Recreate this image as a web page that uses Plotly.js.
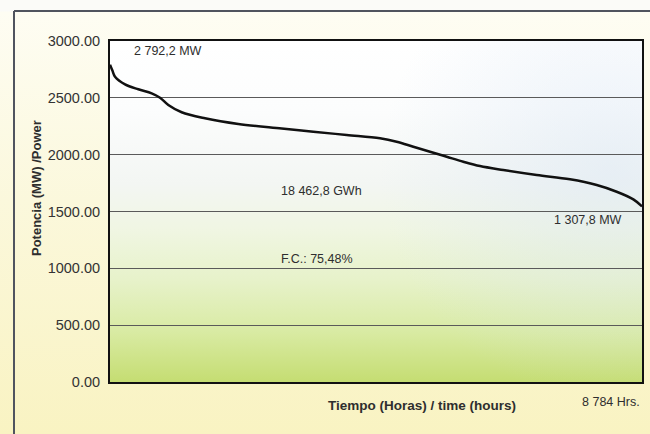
<!DOCTYPE html>
<html>
<head>
<meta charset="utf-8">
<script src="https://cdn.plot.ly/plotly-3.0.1.min.js"></script>
<style>
html,body{margin:0;padding:0;}
#wrap{width:650px;height:434px;background:linear-gradient(to bottom,#fbfbf8 0px,#fbfbf8 11px,#fefdf3 12px,#fbf8dc 200px,#f9f3c2 434px);}
#chart{width:650px;height:434px;}
</style>
</head>
<body>
<div id="wrap"><div id="chart"></div></div>
<script>
// Load duration curve (hours sorted, MW)
const hours = [0, 40, 83, 248, 468, 688, 826, 963, 1183, 1568, 2118, 2835, 3357, 3908, 4458, 4733, 5008, 5284, 5559, 5834, 6109, 6494, 7045, 7595, 8036, 8366, 8641, 8784];
const powerMW = [2792, 2740, 2686, 2619, 2575, 2540, 2501, 2437, 2373, 2320, 2270, 2230, 2202, 2173, 2144, 2114, 2070, 2026, 1982, 1938, 1900, 1865, 1821, 1783, 1733, 1674, 1607, 1545];
const yTicks = [0, 500, 1000, 1500, 2000, 2500, 3000];
const labelPeak = "2 792,2 MW";
const labelMin = "1 307,8 MW";
const labelEnergy = "18 462,8 GWh";
const labelFC = "F.C.: 75,48%";
const labelHours = "8 784 Hrs.";
const xTitle = "Tiempo (Horas) / time (hours)";
const yTitle = "Potencia (MW) /Power";

function plotBg(){
  const c = document.createElement('canvas');
  c.width = 532; c.height = 341;
  const g = c.getContext('2d');
  const lg = g.createLinearGradient(0,0,0,341);
  lg.addColorStop(0, '#ffffff');
  lg.addColorStop(0.2, '#fcfdfd');
  lg.addColorStop(0.42, '#f3f6f3');
  lg.addColorStop(0.55, '#f0f6e3');
  lg.addColorStop(0.7, '#e7f2ca');
  lg.addColorStop(0.85, '#d9eba4');
  lg.addColorStop(1, '#c5dd72');
  g.fillStyle = lg; g.fillRect(0,0,532,341);
  const rg = g.createRadialGradient(500,130,5,500,130,230);
  rg.addColorStop(0,'rgba(218,230,244,0.5)');
  rg.addColorStop(1,'rgba(218,230,244,0)');
  g.fillStyle = rg; g.fillRect(0,0,532,341);
  return c.toDataURL();
}

const font = "'Liberation Sans', Arial, sans-serif";
const trace = {
  x: hours, y: powerMW, type: 'scatter', mode: 'lines',
  line: {color: '#111111', width: 2.5, shape: 'spline', smoothing: 1},
  hoverinfo: 'skip', showlegend: false
};

const layout = {
  width: 650, height: 434,
  margin: {l: 110, r: 8, t: 41, b: 52},
  paper_bgcolor: 'rgba(0,0,0,0)',
  plot_bgcolor: 'rgba(0,0,0,0)',
  font: {family: font, color: '#2e2e2e', size: 12},
  xaxis: {
    range: [0, 8784], showticklabels: false, showgrid: false, zeroline: false,
    showline: true, mirror: true, linecolor: '#111111', linewidth: 2, ticks: ''
  },
  yaxis: {
    range: [0, 3000], tickvals: yTicks, tickformat: '.2f',
    tickfont: {size: 14.5, color: '#333333', family: font},
    showgrid: true, gridcolor: '#5a5a5a', gridwidth: 1, zeroline: false,
    showline: true, mirror: true, linecolor: '#111111', linewidth: 2,
    ticks: 'outside', ticklen: 5, tickcolor: 'rgba(0,0,0,0)'
  },
  images: [{source: plotBg(), xref: 'paper', yref: 'paper', x: 0, y: 1, sizex: 1, sizey: 1,
            sizing: 'stretch', layer: 'below', xanchor: 'left', yanchor: 'top'}],
  shapes: [
    {type: 'line', xref: 'paper', yref: 'paper', x0: (14-110)/532, x1: (14-110)/532, y0: 1+30/341, y1: -0.2, line: {color: '#50545f', width: 2}},
    {type: 'line', xref: 'paper', yref: 'paper', x0: (14-110)/532, x1: 1.1, y0: 1+30/341, y1: 1+30/341, line: {color: '#50545f', width: 2}}
  ],
  annotations: [
    {text: labelPeak, xref: 'x', yref: 'y', x: 0, y: 3000, xshift: 22, yshift: -10, xanchor: 'left', yanchor: 'middle', showarrow: false, font: {size: 12.5}},
    {text: labelEnergy, xref: 'x', yref: 'y', x: 3500, y: 1680, xanchor: 'center', yanchor: 'middle', showarrow: false, font: {size: 12.5}},
    {text: labelMin, xref: 'x', yref: 'y', x: 7900, y: 1425, xanchor: 'center', yanchor: 'middle', showarrow: false, font: {size: 12.5}},
    {text: labelFC, xref: 'x', yref: 'y', x: 3420, y: 1080, xanchor: 'center', yanchor: 'middle', showarrow: false, font: {size: 12.5}},
    {text: labelHours, xref: 'paper', yref: 'paper', x: 1, y: -0.032, xanchor: 'right', yanchor: 'top', showarrow: false, font: {size: 12.5}},
    {text: '<b>' + xTitle + '</b>', xref: 'paper', yref: 'paper', x: (422-110)/532, y: -0.041, xanchor: 'center', yanchor: 'top', showarrow: false, font: {size: 13.5}},
    {text: '<b>' + yTitle + '</b>', xref: 'paper', yref: 'paper', x: (37-110)/532, y: (382-188)/341, xanchor: 'center', yanchor: 'middle', textangle: -90, showarrow: false, font: {size: 13}}
  ]
};

Plotly.newPlot('chart', [trace], layout, {displayModeBar: false, staticPlot: true});
</script>
</body>
</html>
